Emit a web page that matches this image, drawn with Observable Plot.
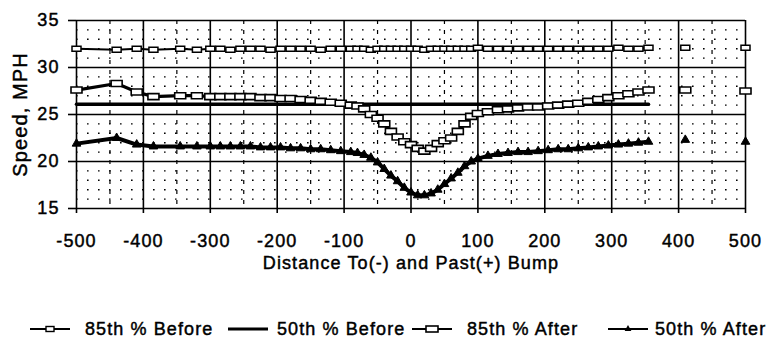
<!DOCTYPE html>
<html>
<head>
<meta charset="utf-8">
<script src="https://cdn.jsdelivr.net/npm/d3@7"></script>
<script src="https://cdn.jsdelivr.net/npm/@observablehq/plot@0.6"></script>
<style>
  html, body { margin: 0; padding: 0; background: #fff; }
  #wrap { width: 774px; height: 343px; position: relative; overflow: hidden; font-family: "Liberation Sans", Arial, sans-serif; }
  #chart svg text { stroke: #000; stroke-width: 0.45px; }
  #legend { position: relative; width: 774px; height: 61px; }
  .item { position: absolute; top: 36px; height: 22px; display: flex; align-items: center; font-size: 18px; letter-spacing: 1.1px; color: #000; white-space: nowrap; -webkit-text-stroke: 0.45px #000; }
  .item svg { display: block; }
</style>
</head>
<body>
<div id="wrap">
  <div id="chart"></div>
  <div id="legend"></div>
</div>
<script>
// ---- data ----
const distance = [-500, -440, -410, -385, -345, -320, -300, -285, -270, -255, -240, -225, -210, -195, -180, -165, -150, -135, -120, -105, -90, -80, -70, -60, -50, -40, -30, -20, -10, 0, 10, 20, 30, 40, 50, 60, 70, 80, 90, 100, 115, 130, 145, 160, 175, 190, 205, 220, 235, 250, 265, 280, 295, 310, 325, 340, 355, 410, 500];

const before85 = [32.0, 31.9, 32.0, 31.9, 32.0, 31.9, 32.0, 32.0, 31.9, 32.0, 32.0, 32.0, 31.9, 32.0, 32.0, 32.0, 32.0, 31.9, 32.0, 32.0, 32.0, 32.0, 32.0, 31.9, 32.0, 32.0, 32.0, 32.0, 32.0, 32.0, 32.0, 31.9, 32.0, 32.0, 32.0, 32.0, 32.0, 32.0, 32.0, 32.1, 32.0, 32.0, 32.0, 32.0, 32.0, 32.0, 32.0, 32.0, 32.0, 32.0, 32.0, 32.0, 32.0, 32.1, 32.0, 32.0, 32.1, 32.1, 32.1];

const before50 = [26.1, 26.1, 26.1, 26.1, 26.1, 26.1, 26.1, 26.1, 26.1, 26.1, 26.1, 26.1, 26.1, 26.1, 26.1, 26.1, 26.1, 26.1, 26.1, 26.1, 26.1, 26.1, 26.1, 26.1, 26.1, 26.1, 26.1, 26.1, 26.1, 26.1, 26.1, 26.1, 26.1, 26.1, 26.1, 26.1, 26.1, 26.1, 26.1, 26.1, 26.1, 26.1, 26.1, 26.1, 26.1, 26.1, 26.1, 26.1, 26.1, 26.1, 26.1, 26.1, 26.1, 26.1, 26.1, 26.1, 26.1, null, null];

const after85 = [27.6, 28.3, 27.4, 26.9, 27.0, 27.0, 26.9, 26.9, 26.9, 26.9, 26.9, 26.8, 26.8, 26.7, 26.7, 26.6, 26.5, 26.4, 26.3, 26.2, 26.0, 25.9, 25.6, 25.0, 24.6, 24.0, 23.2, 22.6, 22.1, 21.8, 21.4, 21.1, 21.4, 21.9, 22.2, 22.5, 23.2, 24.0, 24.8, 25.1, 25.3, 25.5, 25.6, 25.7, 25.8, 25.8, 25.9, 26.0, 26.1, 26.2, 26.4, 26.6, 26.8, 27.0, 27.2, 27.4, 27.6, 27.6, 27.5];

const after50 = [21.9, 22.5, 21.8, 21.6, 21.6, 21.6, 21.6, 21.6, 21.6, 21.6, 21.6, 21.5, 21.5, 21.5, 21.4, 21.4, 21.3, 21.3, 21.2, 21.1, 21.0, 20.9, 20.7, 20.4, 19.9, 19.2, 18.5, 17.9, 17.2, 16.7, 16.4, 16.4, 16.6, 17.0, 17.6, 18.2, 18.8, 19.5, 20.0, 20.3, 20.6, 20.8, 20.9, 21.0, 21.0, 21.1, 21.2, 21.3, 21.3, 21.4, 21.5, 21.6, 21.7, 21.8, 21.9, 22.0, 22.1, 22.3, 22.1];

const lastConnected = 355; // points beyond this are plotted as isolated markers

const xTicks = [-500, -400, -300, -200, -100, 0, 100, 200, 300, 400, 500];
const xTickLabels = ["-500", "-400", "-300", "-200", "-100", "0", "100", "200", "300", "400", "500"];
const xMinor = [-450, -350, -250, -150, -50, 50, 150, 250, 350, 450];
const yTicks = [15, 20, 25, 30, 35];
const yTickLabels = ["15", "20", "25", "30", "35"];
const yMinor = [16, 17, 18, 19, 21, 22, 23, 24, 26, 27, 28, 29, 31, 32, 33, 34];

const xTitle = "Distance To(-) and Past(+) Bump";
const yTitle = "Speed, MPH";
const seriesNames = ["85th % Before", "50th % Before", "85th % After", "50th % After"];

// ---- build rows ----
const rows = distance.map((x, i) => ({x, b85: before85[i], b50: before50[i], a85: after85[i], a50: after50[i]}));
const connected = rows.filter(d => d.x <= lastConnected);

// rectangular marker symbol
const rectSymbol = (w, h) => ({
  draw(ctx) {
    ctx.moveTo(-w / 2, -h / 2);
    ctx.lineTo(w / 2, -h / 2);
    ctx.lineTo(w / 2, h / 2);
    ctx.lineTo(-w / 2, h / 2);
    ctx.closePath();
  }
});

const chart = Plot.plot({
  width: 774,
  height: 282,
  marginLeft: 76,
  marginRight: 29,
  marginTop: 20,
  marginBottom: 74,
  x: {domain: [-500, 500]},
  y: {domain: [15, 35]},
  style: {fontFamily: "'Liberation Sans', Arial, sans-serif", fontSize: "18px", color: "#000", background: "#fff", letterSpacing: "1.1px"},
  marks: [
    // minor grid
    Plot.ruleY(yMinor, {stroke: "#000", strokeWidth: 1.4, strokeDasharray: "1.6,9.4"}),
    Plot.ruleX(xMinor, {stroke: "#000", strokeWidth: 1.2, strokeDasharray: "4,6"}),
    // major grid / frame
    Plot.ruleY(yTicks, {stroke: "#000", strokeWidth: 1.6}),
    Plot.ruleX(xTicks, {stroke: "#000", strokeWidth: 1.6}),
    // axes
    Plot.axisX(xTicks, {tickSize: 5, tickPadding: 21, strokeWidth: 1.6, tickFormat: (d, i) => xTickLabels[i], label: null}),
    Plot.axisY(yTicks, {tickSize: 8, tickPadding: 9, strokeWidth: 1.6, tickFormat: (d, i) => yTickLabels[i], label: null}),
    Plot.text([xTitle], {frameAnchor: "bottom", dy: 60, fontSize: 18}),
    Plot.text([yTitle], {frameAnchor: "left", textAnchor: "middle", dx: -56, rotate: -90, fontSize: 20, style: "letter-spacing: 1.8px"}),
    // 50th before: plain thick line
    Plot.line(connected.filter(d => d.b50 != null), {x: "x", y: "b50", stroke: "#000", strokeWidth: 3.5}),
    // 85th before: thin line + small open rectangles
    Plot.line(connected, {x: "x", y: "b85", stroke: "#000", strokeWidth: 2}),
    Plot.dot(rows, {x: "x", y: "b85", symbol: rectSymbol(9, 5), r: 3, fill: "#fff", stroke: "#000", strokeWidth: 1.5}),
    // 85th after: line + open rectangles
    Plot.line(connected, {x: "x", y: "a85", stroke: "#000", strokeWidth: 3.2}),
    Plot.dot(rows, {x: "x", y: "a85", symbol: rectSymbol(11, 6), r: 3, fill: "#fff", stroke: "#000", strokeWidth: 1.6}),
    // 50th after: thick line + filled triangles
    Plot.line(connected, {x: "x", y: "a50", stroke: "#000", strokeWidth: 4}),
    Plot.dot(rows, {x: "x", y: "a50", symbol: "triangle", r: 3.2, fill: "#000", stroke: "#000", strokeWidth: 1})
  ]
});
document.getElementById("chart").appendChild(chart);

// ---- legend (HTML below the chart) ----
const legend = document.getElementById("legend");
const legendLayout = [
  {sym: "smallrect", symX: 30, textX: 85},
  {sym: "line", symX: 228, textX: 277},
  {sym: "bigrect", symX: 412, textX: 467},
  {sym: "tri", symX: 608, textX: 655}
];
const symbolSvg = (kind) => {
  const w = 40, h = 14, c = h / 2;
  let inner = `<line x1="0" x2="${w}" y1="${c}" y2="${c}" stroke="#000" stroke-width="${kind === "line" ? 3 : 2}"/>`;
  if (kind === "smallrect") inner += `<rect x="${w/2-4}" y="${c-2.5}" width="8" height="5" fill="#fff" stroke="#000" stroke-width="1.4"/>`;
  if (kind === "bigrect") inner += `<rect x="${w/2-6}" y="${c-3}" width="12" height="6" fill="#fff" stroke="#000" stroke-width="1.6"/>`;
  if (kind === "tri") inner += `<path d="${d3.symbol(d3.symbolTriangle, 20)()}" transform="translate(${w/2},${c})" fill="#000"/>`;
  return `<svg width="${w}" height="${h}">${inner}</svg>`;
};
seriesNames.forEach((name, i) => {
  const L = legendLayout[i];
  const s = document.createElement("div");
  s.className = "item";
  s.style.left = L.symX + "px";
  s.innerHTML = symbolSvg(L.sym);
  legend.appendChild(s);
  const t = document.createElement("div");
  t.className = "item";
  t.style.left = L.textX + "px";
  t.textContent = name;
  legend.appendChild(t);
});
</script>
</body>
</html>
